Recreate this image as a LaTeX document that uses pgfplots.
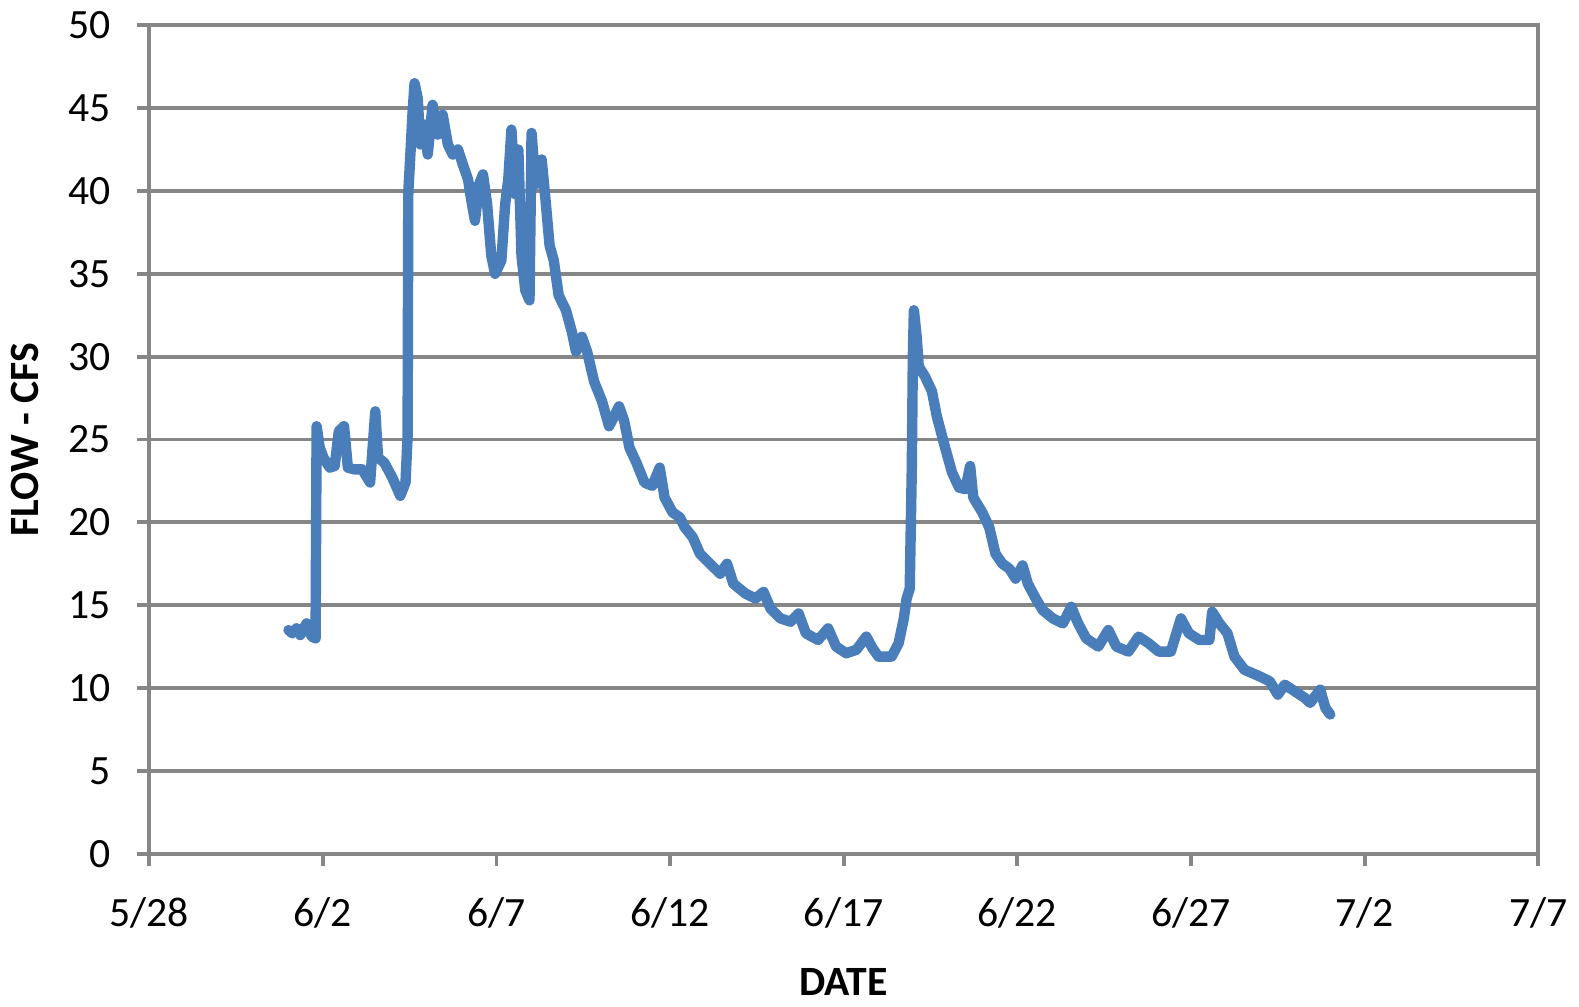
\documentclass[border=0pt]{standalone}
\usepackage{fontspec}
\setmainfont{Carlito}
\usepackage{pgfplots}
\pgfplotsset{compat=1.18}
\definecolor{flowblue}{HTML}{4A7EBB}
\definecolor{gridgray}{HTML}{868686}
\begin{document}
\begin{tikzpicture}
\begin{axis}[
  scale only axis,
  width=14.05cm, height=8.38cm,
  xmin=0, xmax=40, ymin=0, ymax=50,
  xtick={0,5,...,40},
  xticklabels={5/28,6/2,6/7,6/12,6/17,6/22,6/27,7/2,7/7},
  ytick={0,5,...,50},
  ymajorgrids,
  grid style={gridgray, line width=1.1pt},
  axis line style={gridgray, line width=1.1pt},
  tick style={gridgray, line width=1.1pt},
  tick align=outside,
  major tick length=0.12cm,
  xtick pos=bottom, ytick pos=left,
  /pgf/number format/assume math mode=true,
  tick label style={font=\fontsize{12}{14}\selectfont, black},
  xticklabel style={yshift=-0.2cm},
  yticklabel style={xshift=-0.15cm},
  xlabel={\textbf{DATE}},
  ylabel={\textbf{FLOW - CFS}},
  label style={font=\fontsize{12}{14}\selectfont},
  xlabel style={yshift=-0.16cm},
  ylabel style={yshift=0.05cm},
]
\addplot[flowblue, line width=3pt, line join=round, line cap=round] coordinates {
(4.01,13.5)(4.12,13.3)(4.24,13.6)(4.35,13.2)(4.53,13.9)(4.68,13.1)(4.79,13.0)
(4.82,25.8)(4.91,24.5)(5.02,23.9)(5.20,23.3)(5.34,23.4)
(5.46,25.5)(5.61,25.8)(5.72,23.3)(5.90,23.2)(6.13,23.2)
(6.36,22.4)(6.51,26.7)(6.59,23.9)(6.77,23.6)(7.00,22.7)
(7.23,21.6)(7.38,22.4)(7.44,25.2)(7.46,39.9)(7.52,42.2)
(7.58,44.6)(7.64,46.5)(7.73,45.6)(7.81,42.8)(7.93,44.0)
(8.02,42.2)(8.16,45.2)(8.31,43.4)(8.45,44.6)(8.60,42.8)
(8.74,42.2)(8.89,42.5)(9.03,41.6)(9.18,40.7)(9.27,39.5)
(9.38,38.2)(9.50,40.4)(9.61,41.0)(9.73,39.2)(9.85,36.1)
(9.96,35.0)(10.14,35.8)(10.25,39.2)(10.34,40.7)(10.43,43.7)
(10.54,39.8)(10.63,42.5)(10.72,36.1)(10.83,34.0)(10.95,33.4)
(11.01,43.5)(11.12,40.4)(11.30,41.9)(11.41,39.5)(11.53,36.7)
(11.65,35.8)(11.79,33.7)(12.00,32.8)(12.17,31.5)(12.29,30.3)
(12.46,31.2)(12.61,30.3)(12.81,28.5)(13.04,27.3)(13.24,25.8)
(13.39,26.4)(13.53,27.0)(13.68,26.1)(13.83,24.5)(14.03,23.6)
(14.26,22.4)(14.49,22.2)(14.70,23.3)(14.84,21.5)(15.07,20.6)
(15.28,20.3)(15.42,19.7)(15.65,19.1)(15.86,18.1)(16.15,17.5)
(16.44,16.9)(16.64,17.5)(16.82,16.3)(17.17,15.7)(17.46,15.4)
(17.69,15.8)(17.89,14.8)(18.18,14.2)(18.47,14.0)(18.70,14.5)
(18.91,13.3)(19.26,12.9)(19.55,13.6)(19.78,12.5)(20.07,12.1)
(20.36,12.3)(20.65,13.1)(20.83,12.4)(21.00,11.9)(21.38,11.9)
(21.58,12.7)(21.73,14.2)(21.81,15.4)(21.90,16.0)(21.96,23.3)
(21.99,30.0)(22.02,32.8)(22.10,31.2)(22.16,29.4)(22.34,28.8)
(22.54,27.9)(22.68,26.4)(22.92,24.5)(23.12,23.0)(23.32,22.1)
(23.50,22.0)(23.64,23.4)(23.73,21.5)(23.99,20.6)(24.19,19.7)
(24.37,18.1)(24.57,17.5)(24.77,17.2)(24.95,16.6)(25.15,17.4)
(25.30,16.3)(25.53,15.4)(25.73,14.7)(26.02,14.2)(26.31,13.9)
(26.55,14.9)(26.75,13.9)(26.98,13.0)(27.33,12.5)(27.62,13.5)
(27.85,12.5)(28.20,12.2)(28.49,13.1)(28.78,12.7)(29.07,12.2)
(29.42,12.2)(29.71,14.2)(29.94,13.3)(30.24,12.9)(30.53,12.9)
(30.61,14.6)(30.82,13.9)(31.05,13.3)(31.25,11.9)(31.54,11.1)
(31.98,10.7)(32.27,10.4)(32.50,9.6)(32.70,10.2)(32.99,9.8)
(33.28,9.4)(33.43,9.1)(33.72,9.9)(33.87,8.8)(34.01,8.4)
};
\end{axis}
\end{tikzpicture}
\end{document}
